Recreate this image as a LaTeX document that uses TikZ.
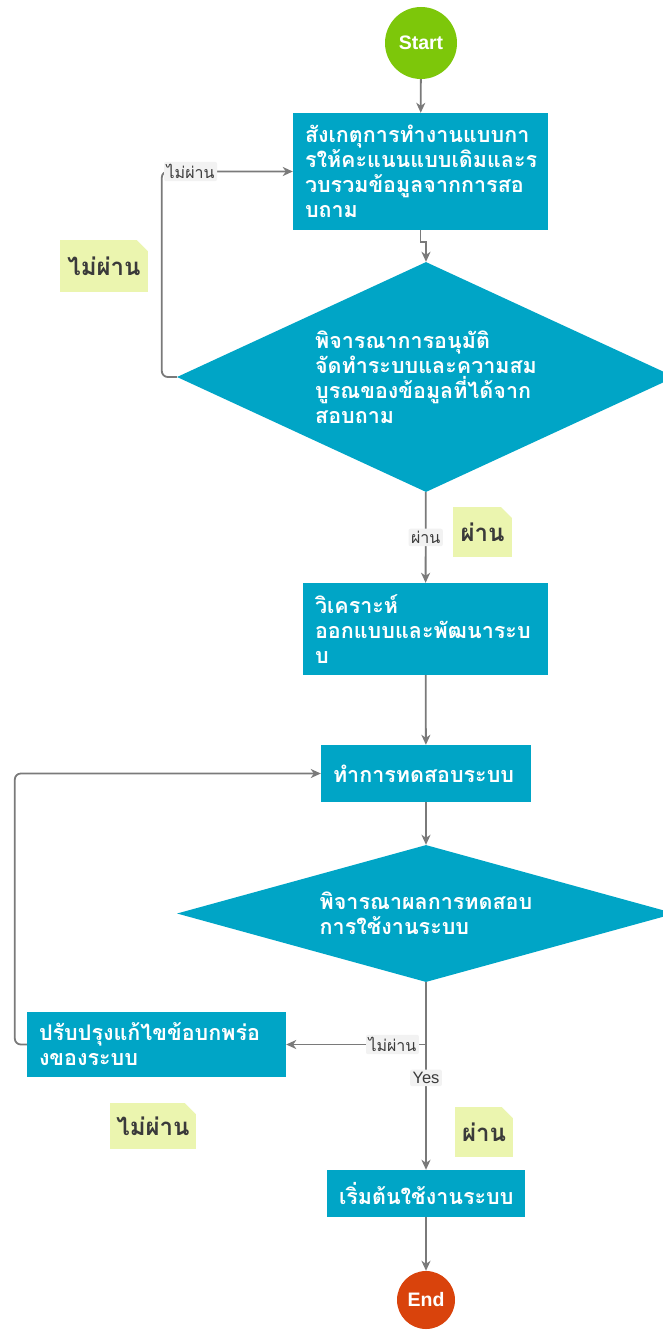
\documentclass[tikz,border=0pt]{standalone}
\usepackage{fontspec}
\setmainfont{Liberation Sans}
\newfontfamily\thaifont[Script=Thai]{Loma}
\usetikzlibrary{arrows,arrows.meta}
\usetikzlibrary{calc,shapes}

\definecolor{boxblue}{HTML}{00A5C6}
\definecolor{startgreen}{HTML}{7DC70A}
\definecolor{endred}{HTML}{D9430C}
\definecolor{notegreen}{HTML}{EBF5AF}
\definecolor{notetext}{HTML}{3A3A3A}
\definecolor{linegray}{HTML}{7A7A7A}
\definecolor{labelgray}{HTML}{F2F2F2}

\tikzset{
	process/.style={fill=boxblue, text=white, align=left, inner xsep=12pt, inner ysep=0pt,
		font=\thaifont\bfseries\fontsize{21.5}{25}\selectfont},
	decision/.style={diamond, fill=boxblue, text=white, align=left, inner sep=0pt,
		font=\thaifont\bfseries\fontsize{21.5}{25}\selectfont},
	terminal/.style={circle, text=white, inner sep=0pt, font=\bfseries\fontsize{19.5}{22}\selectfont},
	arr/.style={-{Stealth[length=10pt, width=9pt, inset=3pt]}, draw=linegray, line width=1.8pt},
	edgelabel/.style={fill=labelgray, text=notetext, inner sep=2.5pt, rounded corners=2pt,
		font=\thaifont\fontsize{16}{18}\selectfont},
	stickynote/.style={fill=notegreen, text=notetext, inner sep=0pt,
		font=\thaifont\bfseries\fontsize{24}{26}\selectfont,
		path picture={\fill[white] ([xshift=-11pt]path picture bounding box.north east) -- (path picture bounding box.north east) -- ([yshift=-11pt]path picture bounding box.north east) -- cycle;}}
}

\begin{document}
\begin{tikzpicture}[x=1pt,y=-1pt]
		\useasboundingbox (0,0) rectangle (663,1330);
		% Debut
		\node[terminal, fill=startgreen, minimum size=72pt] (start) at (421,43) {Start};
		% Observation
		\node[process, minimum width=255pt, minimum height=117pt, text width=231pt] (observe) at (420.5,171.5)
			{สังเกตุการทำงานแบบกา\\รให้คะแนนแบบเดิมและร\\วบรวมข้อมูลจากการสอ\\บถาม};
		% Premiere decision
		\node[decision, aspect=2.17, minimum width=498pt, minimum height=230pt] (approve) at (426,377)
			{พิจารณาการอนุมัติ\\จัดทำระบบและความสม\\บูรณของข้อมูลที่ได้จาก\\สอบถาม};
		% Analyse et conception
		\node[process, minimum width=245pt, minimum height=92pt, text width=221pt] (design) at (425.5,629)
			{วิเคราะห์\\ออกแบบและพัฒนาระบ\\บ};
		% Test
		\node[process, minimum width=210pt, minimum height=57pt, text width=186pt] (testing) at (426,773.5)
			{ทำการทดสอบระบบ};
		% Deuxieme decision
		\node[decision, aspect=3.63, minimum width=498pt, minimum height=137pt] (evaluate) at (426,913.5)
			{พิจารณาผลการทดสอบ\\การใช้งานระบบ};
		% Correction
		\node[process, minimum width=259pt, minimum height=65pt, text width=235pt] (fix) at (156.5,1044.5)
			{ปรับปรุงแก้ไขข้อบกพร่อ\\งของระบบ};
		% Mise en service
		\node[process, minimum width=198pt, minimum height=47pt, text width=174pt] (deploy) at (426,1193.5)
			{เริ่มต้นใช้งานระบบ};
		% Fin
		\node[terminal, fill=endred, minimum size=58pt] (stop) at (426,1300) {End};
		% Notes
		\node[stickynote, minimum width=88pt, minimum height=52pt] (notefail1) at (104,266) {ไม่ผ่าน};
		\node[stickynote, minimum width=59pt, minimum height=50pt] (notepass1) at (482.5,532) {ผ่าน};
		\node[stickynote, minimum width=86pt, minimum height=46pt] (notefail2) at (153,1126) {ไม่ผ่าน};
		\node[stickynote, minimum width=58pt, minimum height=50pt] (notepass2) at (484,1132) {ผ่าน};
		% Fleches
		\draw[arr] (start) -- (observe);
		\draw[arr] (observe.south) -- ++(0,12) -| (approve.north);
		\draw[arr, rounded corners=6pt] (approve.west) -- ++(-15,0) |- node[edgelabel, pos=0.61] (lblfail1) {ไม่ผ่าน} (observe.west);
		\draw[arr] (approve) -- node[edgelabel] (lblpass1) {ผ่าน} (design);
		\draw[arr] (design) -- (testing);
		\draw[arr] (testing) -- (evaluate);
		\coordinate (split) at (426,1044.5);
		\draw[arr] (evaluate) -- node[edgelabel, pos=0.51, font=\fontsize{16.5}{18}\selectfont] (lblyes) {Yes} (deploy);
		\draw[arr] (split) -- node[edgelabel, pos=0.24] (lblfail2) {ไม่ผ่าน} (fix);
		\draw[arr, rounded corners=6pt] (fix.west) -- ++(-12,0) |- (testing.west);
		\draw[arr] (deploy) -- (stop);
\end{tikzpicture}
\end{document}
